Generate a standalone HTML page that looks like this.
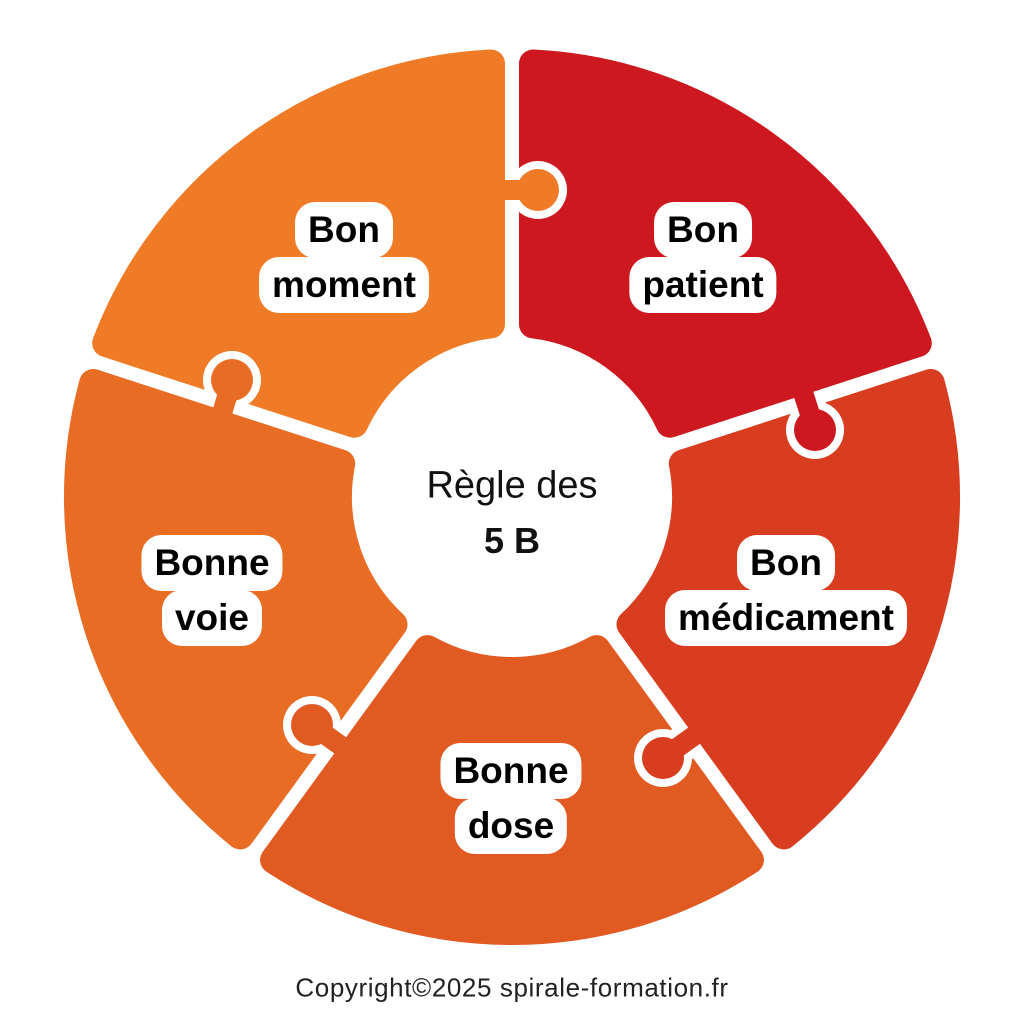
<!DOCTYPE html>
<html><head><meta charset="utf-8"><style>
body{margin:0;width:1024px;height:1024px;background:#fff;position:relative;overflow:hidden;font-family:"Liberation Sans",sans-serif}
.l{position:absolute;transform:translate(-50%,-50%);background:#fff;color:#000;font-weight:bold;font-size:37px;line-height:56px;height:56px;padding:0 13px;border-radius:20px;white-space:nowrap}
.c{position:absolute;transform:translate(-50%,-50%);font-size:38px;color:#111;white-space:nowrap}
</style></head><body>
<svg width="1024" height="1024" style="position:absolute;left:0;top:0">
<g stroke-width="28" stroke-linejoin="round">
<path fill="#EF7B26" stroke="#EF7B26" d="M106.2,343.1 A434,434 0 0 1 491,63.5 L491,324.3 A174,174 0 0 0 354.2,423.7 Z"/>
<path fill="#CC181E" stroke="#CC181E" d="M533,63.5 A434,434 0 0 1 917.8,343.1 L669.8,423.7 A174,174 0 0 0 533,324.3 Z"/>
<path fill="#D93D20" stroke="#D93D20" d="M930.8,383 A434,434 0 0 1 783.8,835.4 L630.5,624.4 A174,174 0 0 0 682.8,463.6 Z"/>
<path fill="#E05A22" stroke="#E05A22" d="M749.9,860 A434,434 0 0 1 274.1,860 L427.5,649.1 A174,174 0 0 0 596.5,649.1 Z"/>
<path fill="#E96C24" stroke="#E96C24" d="M240.2,835.4 A434,434 0 0 1 93.2,383 L341.2,463.6 A174,174 0 0 0 393.5,624.4 Z"/>
</g>
<g>
<circle cx="538" cy="190" r="29" fill="#fff"/><line x1="512" y1="190" x2="538" y2="190" stroke="#fff" stroke-width="36"/>
<line x1="495" y1="190" x2="538" y2="190" stroke="#EF7B26" stroke-width="20"/><circle cx="538" cy="190" r="21" fill="#EF7B26"/>

<circle cx="815" cy="430" r="29" fill="#fff"/><line x1="806" y1="402" x2="815" y2="430" stroke="#fff" stroke-width="36"/>
<line x1="801" y1="386" x2="815" y2="430" stroke="#CC181E" stroke-width="20"/><circle cx="815" cy="430" r="21" fill="#CC181E"/>

<circle cx="663" cy="758" r="29" fill="#fff"/><line x1="688" y1="740" x2="663" y2="758" stroke="#fff" stroke-width="36"/>
<line x1="702" y1="730" x2="663" y2="758" stroke="#D93D20" stroke-width="20"/><circle cx="663" cy="758" r="21" fill="#D93D20"/>

<circle cx="312" cy="725" r="29" fill="#fff"/><line x1="334" y1="741" x2="312" y2="725" stroke="#fff" stroke-width="36"/>
<line x1="348" y1="751" x2="312" y2="725" stroke="#E05A22" stroke-width="20"/><circle cx="312" cy="725" r="21" fill="#E05A22"/>

<circle cx="232" cy="380" r="29" fill="#fff"/><line x1="225" y1="404" x2="232" y2="380" stroke="#fff" stroke-width="36"/>
<line x1="220" y1="420" x2="232" y2="380" stroke="#E96C24" stroke-width="20"/><circle cx="232" cy="380" r="21" fill="#E96C24"/>
</g>
</svg>
<div class="l" style="left:344px;top:230px">Bon</div>
<div class="l" style="left:344px;top:285px">moment</div>
<div class="l" style="left:703px;top:230px">Bon</div>
<div class="l" style="left:703px;top:285px">patient</div>
<div class="l" style="left:786px;top:563px">Bon</div>
<div class="l" style="left:786px;top:618px">médicament</div>
<div class="l" style="left:212px;top:563px">Bonne</div>
<div class="l" style="left:212px;top:618px">voie</div>
<div class="l" style="left:511px;top:771px">Bonne</div>
<div class="l" style="left:511px;top:826px">dose</div>
<div class="c" style="left:512px;top:486px">Règle des</div>
<div class="c" style="left:512px;top:541px;font-weight:bold;font-size:36px">5 B</div>
<div class="c" style="left:512px;top:988px;font-size:26px;letter-spacing:0.6px;color:#222">Copyright©2025 spirale-formation.fr</div>
</body></html>
